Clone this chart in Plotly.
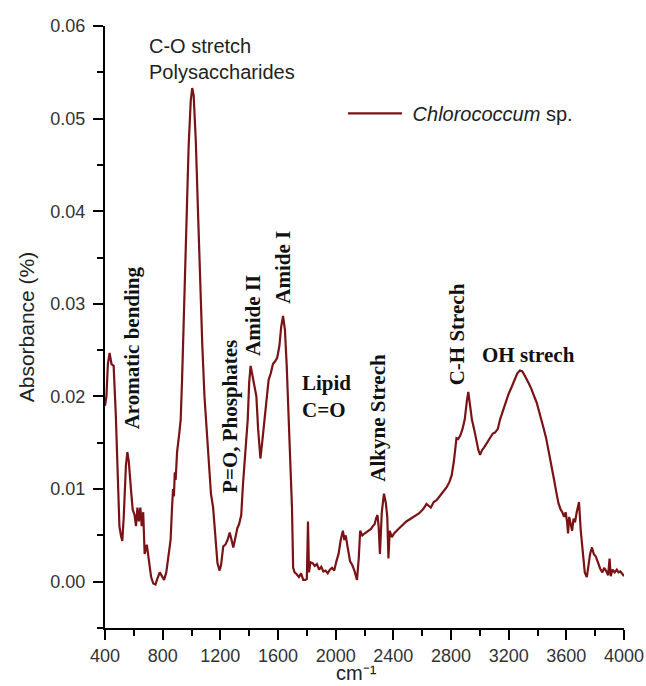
import plotly.graph_objects as go

wavenumber = [
    400, 410, 420, 432, 445, 460, 475, 490, 500, 510, 520, 530, 545, 555, 565, 580, 592, 605, 615, 625,
    635, 645, 655, 665, 675, 690, 705, 720, 735, 750, 765, 780, 795, 810, 825, 840, 855, 865, 872, 878,
    884, 890, 900, 915, 925, 935, 950, 965, 980, 995, 1005, 1015, 1030, 1045, 1060, 1075, 1090, 1107, 1120, 1135,
    1150, 1165, 1180, 1195, 1205, 1220, 1235, 1250, 1265, 1278, 1290, 1305, 1318, 1330, 1345, 1357, 1372, 1390, 1400, 1410,
    1420, 1435, 1450, 1462, 1478, 1490, 1505, 1520, 1535, 1550, 1565, 1580, 1595, 1610, 1622, 1635, 1648, 1660, 1672, 1685,
    1697, 1705, 1715, 1730, 1745, 1760, 1775, 1790, 1800, 1808, 1815, 1825, 1840, 1855, 1870, 1885, 1900, 1915, 1930, 1945,
    1960, 1975, 1990, 2005, 2020, 2035, 2050, 2060, 2070, 2080, 2090, 2100, 2115, 2130, 2148, 2160, 2170, 2185, 2200, 2215,
    2230, 2245, 2258, 2270, 2280, 2290, 2298, 2307, 2320, 2335, 2348, 2358, 2366, 2375, 2390, 2405, 2430, 2460, 2490, 2520,
    2550, 2580, 2610, 2630, 2645, 2660, 2680, 2700, 2720, 2745, 2770, 2790, 2805, 2820, 2838, 2850, 2865, 2880, 2895, 2910,
    2920, 2930, 2945, 2960, 2975, 2990, 3002, 3015, 3030, 3050, 3070, 3090, 3105, 3125, 3140, 3160, 3180, 3200, 3220, 3240,
    3260, 3278, 3295, 3310, 3325, 3340, 3355, 3370, 3385, 3395, 3410, 3425, 3440, 3460, 3480, 3500, 3515, 3530, 3545, 3560,
    3572, 3585, 3595, 3605, 3612, 3620, 3630, 3640, 3650, 3660, 3672, 3688, 3700, 3715, 3728, 3742, 3752, 3765, 3778, 3790,
    3805, 3820, 3835, 3850, 3862, 3875, 3890, 3900, 3908, 3920, 3935, 3950, 3962, 3975, 3990, 4000,
]

absorbance = [
    0.0190, 0.0200, 0.0235, 0.0247, 0.0235, 0.0233, 0.0180, 0.0100, 0.0060, 0.0050, 0.0044, 0.0070, 0.0125, 0.0140, 0.0130, 0.0100, 0.0078, 0.0072, 0.0060, 0.0080,
    0.0065, 0.0080, 0.0060, 0.0075, 0.0030, 0.0040, 0.0020, 0.0005, -0.0002, -0.0003, 0.0004, 0.0010, 0.0006, 0.0002, 0.0010, 0.0025, 0.0045, 0.0080, 0.0100, 0.0092,
    0.0118, 0.0110, 0.0140, 0.0160, 0.0175, 0.0220, 0.0310, 0.0400, 0.0470, 0.0520, 0.0533, 0.0525, 0.0475, 0.0400, 0.0320, 0.0255, 0.0200, 0.0160, 0.0120, 0.0095,
    0.0080, 0.0050, 0.0020, 0.0012, 0.0018, 0.0038, 0.0040, 0.0045, 0.0053, 0.0045, 0.0037, 0.0048, 0.0058, 0.0062, 0.0072, 0.0105, 0.0135, 0.0175, 0.0215, 0.0233,
    0.0225, 0.0210, 0.0200, 0.0165, 0.0133, 0.0150, 0.0172, 0.0195, 0.0218, 0.0225, 0.0235, 0.0238, 0.0242, 0.0255, 0.0275, 0.0287, 0.0272, 0.0235, 0.0190, 0.0130,
    0.0080, 0.0015, 0.0010, 0.0008, 0.0005, 0.0009, 0.0002, 0.0002, 0.0003, 0.0065, 0.0010, 0.0021, 0.0020, 0.0017, 0.0019, 0.0013, 0.0016, 0.0011, 0.0012, 0.0009,
    0.0013, 0.0015, 0.0012, 0.0022, 0.0030, 0.0045, 0.0055, 0.0045, 0.0050, 0.0040, 0.0030, 0.0022, 0.0018, 0.0012, 0.0002, 0.0025, 0.0055, 0.0050, 0.0052, 0.0054,
    0.0055, 0.0057, 0.0060, 0.0062, 0.0068, 0.0072, 0.0060, 0.0030, 0.0075, 0.0095, 0.0085, 0.0070, 0.0025, 0.0055, 0.0048, 0.0052, 0.0056, 0.0061, 0.0065, 0.0068,
    0.0071, 0.0074, 0.0079, 0.0084, 0.0082, 0.0080, 0.0086, 0.0088, 0.0092, 0.0097, 0.0102, 0.0108, 0.0115, 0.0130, 0.0155, 0.0154, 0.0158, 0.0165, 0.0175, 0.0195,
    0.0205, 0.0193, 0.0175, 0.0165, 0.0152, 0.0142, 0.0137, 0.0142, 0.0145, 0.0150, 0.0155, 0.0160, 0.0161, 0.0165, 0.0175, 0.0185, 0.0195, 0.0203, 0.0210, 0.0218,
    0.0225, 0.0228, 0.0227, 0.0223, 0.0219, 0.0214, 0.0209, 0.0202, 0.0197, 0.0193, 0.0185, 0.0177, 0.0167, 0.0155, 0.0140, 0.0125, 0.0110, 0.0097, 0.0085, 0.0078,
    0.0075, 0.0070, 0.0075, 0.0065, 0.0052, 0.0070, 0.0062, 0.0055, 0.0068, 0.0064, 0.0075, 0.0086, 0.0055, 0.0030, 0.0010, 0.0005, 0.0015, 0.0030, 0.0037, 0.0030,
    0.0027, 0.0020, 0.0014, 0.0010, 0.0015, 0.0012, 0.0007, 0.0025, 0.0006, 0.0013, 0.0010, 0.0013, 0.0010, 0.0011, 0.0008, 0.0006,
]

series_name = "&nbsp;<i>Chlorococcum</i> sp."
x_title = "cm⁻¹"
y_title = "Absorbance (%)"
x_ticks = [400, 800, 1200, 1600, 2000, 2400, 2800, 3200, 3600, 4000]
y_ticks = [0.00, 0.01, 0.02, 0.03, 0.04, 0.05, 0.06]

peak_labels = ["Aromatic bending", "P=O, Phosphates", "Amide II", "Amide I", "Alkyne Strech", "C-H Strech"]
peak_label_x = [587, 1267, 1427, 1635, 2293, 2841]
peak_label_y = [0.0253, 0.0179, 0.0287, 0.0339, 0.0177, 0.0267]

LINE = "#7a1315"
SERIF = "Liberation Serif, Times New Roman, serif"
SANS = "Liberation Sans, Arial, sans-serif"

fig = go.Figure()
fig.add_trace(go.Scatter(
    x=wavenumber, y=absorbance, mode="lines", name=series_name,
    line=dict(color=LINE, width=2.2), showlegend=True,
))

axis_common = dict(
    showline=True, linecolor="black", linewidth=2,
    ticks="outside", ticklen=10, tickwidth=2, tickcolor="black",
    showgrid=False, zeroline=False, automargin=False,
    tickfont=dict(family=SANS, size=18, color="#333333"),
)

fig.update_xaxes(
    range=[400, 4000], tickvals=x_ticks,
    minor=dict(ticks="outside", ticklen=6, tickwidth=2, tickcolor="black", dtick=200, tick0=400),
    **axis_common,
)
fig.update_yaxes(
    range=[-0.005, 0.06], tickvals=y_ticks, tickformat=".2f",
    minor=dict(ticks="outside", ticklen=6, tickwidth=2, tickcolor="black", dtick=0.005, tick0=0),
    title=dict(text=y_title, font=dict(family=SANS, size=21, color="#222222"), standoff=10),
    ticklabelstandoff=4,
    **axis_common,
)

annotations = []
for txt, ax, ay in zip(peak_labels, peak_label_x, peak_label_y):
    annotations.append(dict(
        x=ax, y=ay, xref="x", yref="y", text=f"<b>{txt}</b>", showarrow=False,
        textangle=-90, xanchor="center", yanchor="middle",
        font=dict(family=SERIF, size=21, color="#111111"),
    ))
annotations.append(dict(
    x=1752, y=0.0200, xref="x", yref="y", text="<b>Lipid</b><br><b>C=O</b>", showarrow=False,
    xanchor="left", yanchor="middle", align="left",
    font=dict(family=SERIF, size=21, color="#111111"),
))
annotations.append(dict(
    x=3001, y=0.0245, xref="x", yref="y", text="<b>OH strech</b>", showarrow=False,
    xanchor="left", yanchor="middle", align="left",
    font=dict(family=SERIF, size=21, color="#111111"),
))
annotations.append(dict(
    x=691, y=0.0564, xref="x", yref="y", text="C-O stretch<br>Polysaccharides", showarrow=False,
    xanchor="left", yanchor="middle", align="left",
    font=dict(family=SANS, size=20, color="#222222"),
))
# x-axis title (placed below the tick labels)
annotations.append(dict(
    x=0.4855, y=-0.0755, xref="paper", yref="paper", text=x_title, showarrow=False,
    xanchor="center", yanchor="middle",
    font=dict(family=SANS, size=20, color="#222222"),
))

fig.update_layout(
    width=646, height=686,
    margin=dict(l=105, r=22, t=26, b=58),
    paper_bgcolor="white", plot_bgcolor="white",
    annotations=annotations,
    legend=dict(
        x=0.4586, y=0.855, xanchor="left", yanchor="middle",
        font=dict(family=SANS, size=20, color="#222222"),
        bgcolor="rgba(0,0,0,0)", itemwidth=54,
    ),
)

fig.write_html("out.html")
